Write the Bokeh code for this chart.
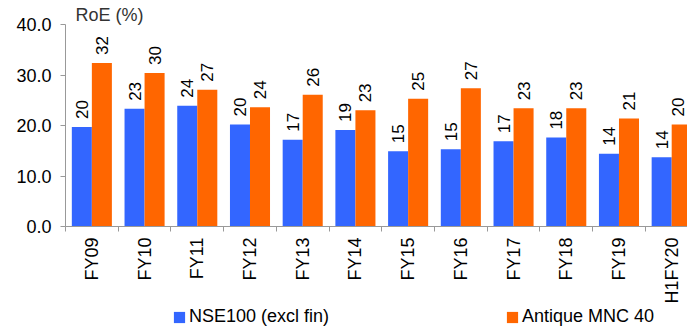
import math

from bokeh.core.properties import value
from bokeh.embed import file_html
from bokeh.layouts import column
from bokeh.models import (ColumnDataSource, FixedTicker, Legend, LegendItem,
                          NumeralTickFormatter, Range1d)
from bokeh.plotting import figure
from bokeh.resources import INLINE

# Return on equity (%) by fiscal year
categories = ["FY09", "FY10", "FY11", "FY12", "FY13", "FY14",
              "FY15", "FY16", "FY17", "FY18", "FY19", "H1FY20"]
nse100 = [19.7, 23.3, 23.9, 20.2, 17.2, 19.1, 14.9, 15.3, 16.9, 17.6, 14.4, 13.7]
antique_mnc40 = [32.4, 30.4, 27.1, 23.6, 26.1, 23.0, 25.3, 27.4, 23.4, 23.4, 21.4, 20.2]
y_ticks = [0, 10, 20, 30, 40]

series_names = ["NSE100 (excl fin)", "Antique MNC 40"]
colors = ["#3366FF", "#FF6600"]

FONT = "Liberation Sans"
BAR_W = 0.38
X_END = 11.8

centers = [i + 0.5 for i in range(len(categories))]
x_a = [c - BAR_W / 2 for c in centers]
x_b = [c + BAR_W / 2 for c in centers]


def nudge(xs):
    # keep value labels that sit at the clipped right edge inside the chart
    return [-4 if X_END - x < BAR_W / 2 else 0 for x in xs]


src = ColumnDataSource(dict(
    x_a=x_a, x_b=x_b,
    a=nse100,
    b=antique_mnc40,
    a_lbl=[f"{v:.0f}" for v in nse100],
    b_lbl=[f"{v:.0f}" for v in antique_mnc40],
    a_dx=nudge(x_a),
    b_dx=nudge(x_b),
))

p = figure(width=687, height=306, output_backend="svg", toolbar_location=None,
           x_range=Range1d(0, X_END), y_range=Range1d(0, 40),
           min_border_left=65, min_border_right=0,
           min_border_top=24, min_border_bottom=79)
p.outline_line_color = None
p.xgrid.visible = False
p.ygrid.visible = False
p.background_fill_color = "white"
p.border_fill_color = "white"

p.title.text = "RoE (%)"
p.title.align = "left"
p.title.offset = 10
p.title.standoff = 0
p.title.text_font = FONT
p.title.text_font_size = "18px"
p.title.text_font_style = "normal"
p.title.text_color = "#333333"

r_a = p.vbar(x="x_a", top="a", width=BAR_W, source=src,
             fill_color=colors[0], line_color=None)
r_b = p.vbar(x="x_b", top="b", width=BAR_W, source=src,
             fill_color=colors[1], line_color=None)

for xcol, ycol, lcol, dcol in (("x_a", "a", "a_lbl", "a_dx"),
                               ("x_b", "b", "b_lbl", "b_dx")):
    p.text(x=xcol, y=ycol, text=lcol, source=src, angle=math.pi / 2,
           text_align="left", text_baseline="middle",
           x_offset=dcol, y_offset=-8,
           text_font=value(FONT), text_font_size="17px", text_color="#000000")

# y axis
p.yaxis.ticker = FixedTicker(ticks=y_ticks)
p.yaxis.formatter = NumeralTickFormatter(format="0.0")
p.yaxis.axis_line_color = "#999999"
p.yaxis.major_tick_line_color = "#999999"
p.yaxis.major_tick_out = 5
p.yaxis.major_tick_in = 0
p.yaxis.minor_tick_line_color = None
p.yaxis.major_label_standoff = 9
p.yaxis.major_label_text_font = FONT
p.yaxis.major_label_text_font_size = "18px"
p.yaxis.major_label_text_color = "#000000"

# x axis: labels at category centres, tick marks at category boundaries
p.xaxis.ticker = FixedTicker(ticks=centers,
                             minor_ticks=list(range(len(categories) + 1)))
p.xaxis.major_label_overrides = {c: n for c, n in zip(centers, categories)}
p.xaxis.major_label_orientation = math.pi / 2
p.xaxis.axis_line_color = "#999999"
p.xaxis.major_tick_line_color = None
p.xaxis.minor_tick_line_color = "#999999"
p.xaxis.minor_tick_out = 5
p.xaxis.minor_tick_in = 0
p.xaxis.major_label_standoff = 5
p.xaxis.major_label_text_font = FONT
p.xaxis.major_label_text_font_size = "18px"
p.xaxis.major_label_text_color = "#000000"

# legend strip under the chart; its swatch renderers stay hidden
leg = figure(width=687, height=21, output_backend="svg", toolbar_location=None,
             x_range=Range1d(0, 687), y_range=Range1d(0, 21),
             x_axis_location=None, y_axis_location=None, min_border=0)
leg.grid.visible = False
leg.outline_line_color = None
swatch_a = leg.vbar(x="x_a", top="a", width=BAR_W, source=src,
                    fill_color=colors[0], line_color=None, visible=False)
swatch_b = leg.vbar(x="x_b", top="b", width=BAR_W, source=src,
                    fill_color=colors[1], line_color=None, visible=False)
legend = Legend(items=[LegendItem(label=series_names[0], renderers=[swatch_a]),
                       LegendItem(label=series_names[1], renderers=[swatch_b])],
                orientation="horizontal", location=(107, 0),
                glyph_width=14, glyph_height=14, label_standoff=3,
                spacing=176, padding=0, margin=0,
                label_text_font=FONT, label_text_font_size="18px",
                label_text_color="#000000",
                inactive_fill_alpha=0,
                border_line_color=None, background_fill_alpha=0)
leg.add_layout(legend, "center")

layout = column(p, leg, spacing=0)
open("out.html", "w").write(file_html(layout, INLINE))
